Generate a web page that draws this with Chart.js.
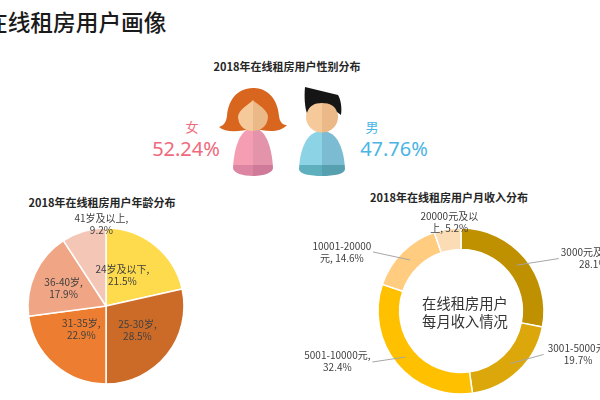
<!DOCTYPE html>
<html>
<head>
  <meta charset="utf-8">
  <title>在线租房用户画像</title>
  <script src="https://cdn.jsdelivr.net/npm/chart.js"></script>
  <style>
    html, body { margin: 0; padding: 0; background: #fff; }
    body { width: 600px; height: 400px; position: relative; overflow: hidden; font-family: "Noto Sans CJK SC", "Noto Sans", sans-serif; }
    .t { position: absolute; white-space: nowrap; line-height: 1; transform: translate(-50%, -50%); }
    .sub { font-size: 11px; font-weight: 700; color: #262626; }
    canvas { position: absolute; }
    svg { position: absolute; left: 0; top: 0; }
  </style>
</head>
<body>

<div style="position:absolute;left:-15px;top:11px;font-size:22.7px;line-height:1;font-weight:500;color:#1a1a1a;white-space:nowrap">在线租房用户画像</div>

<div class="t sub" style="left:287px;top:66px">2018年在线租房用户性别分布</div>
<div class="t sub" style="left:102px;top:202px">2018年在线租房用户年龄分布</div>
<div class="t sub" style="left:449px;top:197px">2018年在线租房用户月收入分布</div>

<div class="t" style="left:192px;top:126px;font-size:13px;color:#ef6a7d">女</div>
<div class="t" style="left:186px;top:149px;font-size:20px;color:#ef6a7d;font-family:'Noto Sans'">52.24%</div>
<div class="t" style="left:372px;top:126px;font-size:13px;color:#4ab5e5">男</div>
<div class="t" style="left:394px;top:149px;font-size:20px;color:#4ab5e5;font-family:'Noto Sans'">47.76%</div>

<svg width="600" height="200" viewBox="0 0 600 200">
  <defs>
    <clipPath id="womanBody"><path d="M253 128C240 128 234 148 233 168C233 173 243 176 253 176C263 176 273 173 273 168C272 148 266 128 253 128Z"/></clipPath>
    <clipPath id="womanFace"><path d="M238 116C240 108 250 104 253 100C256 104 266 108 268 116C268 125 262 131 253 131C244 131 238 125 238 116Z"/></clipPath>
    <clipPath id="manBody"><path d="M322 131C306 131 300 150 299 169C299 174 310 176 322 176C334 176 345 174 345 169C344 150 338 131 322 131Z"/></clipPath>
    <clipPath id="manFace"><ellipse cx="322" cy="117" rx="16" ry="15.5"/></clipPath>
  </defs>
  <!-- woman -->
  <path fill="#d9661f" d="M253 88C236 88 228 102 227 116C226 124 222 126 219 127C226 133 240 132 253 128C266 132 280 133 287 125C284 125 280 124 279 116C278 102 270 88 253 88Z"/>
  <g clip-path="url(#womanBody)">
    <rect x="230" y="125" width="23" height="40" fill="#f59db3"/>
    <rect x="253" y="125" width="24" height="40" fill="#e394ab"/>
    <rect x="230" y="165" width="23" height="12" fill="#dc86a4"/>
    <rect x="253" y="165" width="24" height="12" fill="#cf7a98"/>
  </g>
  <g clip-path="url(#womanFace)">
    <rect x="236" y="98" width="17" height="35" fill="#f6c99a"/>
    <rect x="253" y="98" width="17" height="35" fill="#eab987"/>
  </g>
  <!-- man -->
  <g clip-path="url(#manBody)">
    <rect x="296" y="128" width="26" height="37" fill="#8cd3e6"/>
    <rect x="322" y="128" width="26" height="37" fill="#7cbcd2"/>
    <rect x="296" y="165" width="26" height="12" fill="#5fb0bf"/>
    <rect x="322" y="165" width="26" height="12" fill="#56a0af"/>
  </g>
  <g clip-path="url(#manFace)">
    <rect x="304" y="100" width="18" height="34" fill="#f6c99a"/>
    <rect x="322" y="100" width="18" height="34" fill="#eab987"/>
  </g>
  <path fill="#151515" d="M305 87L338 95C341 100 342 108 341 115L337 112C335 106 330 103 322 103C314 103 309 106 307 113C305 108 304 98 305 87Z"/>
</svg>

<canvas id="ageChart" width="212" height="200" style="left:0;top:206px"></canvas>
<canvas id="incomeChart" width="322" height="210" style="left:300px;top:206px"></canvas>

<div class="t" style="left:465px;top:303px;font-size:14.3px;color:#333">在线租房用户</div>
<div class="t" style="left:465px;top:321px;font-size:14.3px;color:#333">每月收入情况</div>

<script>
  const ageLabels = [['24岁及以下,', '21.5%'], ['25-30岁,', '28.5%'], ['31-35岁,', '22.9%'], ['36-40岁,', '17.9%'], ['41岁及以上,', '9.2%']];
  const ageValues = [21.5, 28.5, 22.9, 17.9, 9.2];
  const ageColors = ['#fddb4c', '#cc6b28', '#ed7d31', '#f0a584', '#f4c6b5'];

  const incomeLabels = [['3000元及以下,', '28.1%'], ['3001-5000元,', '19.7%'], ['5001-10000元,', '32.4%'], ['10001-20000', '元, 14.6%'], ['20000元及以', '上, 5.2%']];
  const incomeValues = [28.1, 19.7, 32.4, 14.6, 5.2];
  const incomeColors = ['#bf9000', '#dba70a', '#ffc000', '#ffcc80', '#fbdcb4'];

  // label offset from the middle of each slice, and where the leader line ends
  const ageOffsets = [[-8, 0], [1, 0], [1, -6], [-7, -2], [6.5, -44.6]];
  const incomeOffsets = [[76.5, -6.6], [67.5, -9], [-68, 4.4], [-68, -7.4], [0, -18]];
  const incomeLeaders = [[42, -6.6], [33, -9], [-33, 5], [-37, -8], null];

  const sliceLabels = {
    id: 'sliceLabels',
    afterDatasetsDraw(chart, args, opts) {
      const ctx = chart.ctx;
      ctx.save();
      chart.getDatasetMeta(0).data.forEach((arc, i) => {
        const p = arc.getCenterPoint();
        if (opts.leaders && opts.leaders[i]) {
          ctx.strokeStyle = '#a6a6a6';
          ctx.lineWidth = 1;
          ctx.beginPath();
          ctx.moveTo(p.x, p.y);
          ctx.lineTo(p.x + opts.leaders[i][0], p.y + opts.leaders[i][1]);
          ctx.stroke();
        }
        ctx.font = '10px "Noto Sans CJK SC"';
        ctx.fillStyle = '#404040';
        ctx.textAlign = 'center';
        ctx.textBaseline = 'middle';
        const x = p.x + opts.offsets[i][0];
        const y = p.y + opts.offsets[i][1];
        ctx.fillText(opts.lines[i][0], x, y - 6);
        ctx.fillText(opts.lines[i][1], x, y + 6);
      });
      ctx.restore();
    }
  };

  new Chart(document.getElementById('ageChart'), {
    type: 'pie',
    data: {
      labels: ageLabels.map(l => l[0]),
      datasets: [{ data: ageValues, backgroundColor: ageColors, borderColor: '#fff', borderWidth: 1.5 }]
    },
    options: {
      responsive: false,
      animation: false,
      radius: 78,
      plugins: {
        legend: { display: false },
        tooltip: { enabled: false },
        sliceLabels: { lines: ageLabels, offsets: ageOffsets }
      }
    },
    plugins: [sliceLabels]
  });

  new Chart(document.getElementById('incomeChart'), {
    type: 'doughnut',
    data: {
      labels: incomeLabels.map(l => l[0]),
      datasets: [{ data: incomeValues, backgroundColor: incomeColors, borderColor: '#fff', borderWidth: 1.5 }]
    },
    options: {
      responsive: false,
      animation: false,
      radius: 83,
      cutout: '74%',
      plugins: {
        legend: { display: false },
        tooltip: { enabled: false },
        sliceLabels: { lines: incomeLabels, offsets: incomeOffsets, leaders: incomeLeaders }
      }
    },
    plugins: [sliceLabels]
  });
</script>

</body>
</html>
